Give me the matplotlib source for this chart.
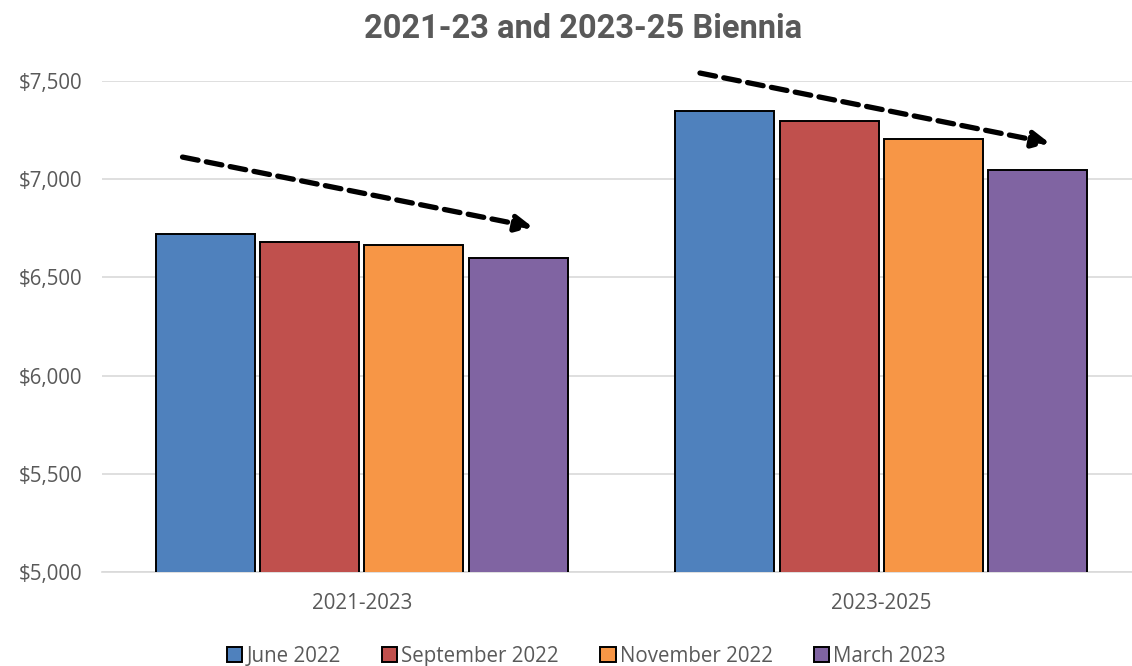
import numpy as np
from matplotlib import pyplot as plt
from matplotlib.ticker import FuncFormatter

categories = ["2021-2023", "2023-2025"]
series = ["June 2022", "September 2022", "November 2022", "March 2023"]
june_2022 = [6720, 7343]
sept_2022 = [6679, 7293]
nov_2022 = [6666, 7201]
march_2023 = [6598, 7045]
colors = ["#4F81BD", "#C0504D", "#F79646", "#8064A2"]

# trend arrows (start x offset, start y, end x offset, end y) per group
arrows = [(-0.345, 7111, 0.329, 6755), (-0.349, 7538, 0.324, 7182)]

plt.rcParams["font.family"] = ["Open Sans", "DejaVu Sans"]
text_gray = "#595959"

fig = plt.figure(figsize=(11.32, 6.66), dpi=100)
ax = fig.add_axes([0.0901, 0.1404, 0.9179, 0.7387])

x = np.arange(len(categories))
slot = 0.2008
width = 0.1905
values = [june_2022, sept_2022, nov_2022, march_2023]
for i, (vals, name, col) in enumerate(zip(values, series, colors)):
    ax.bar(x + (i - 1.5) * slot, vals, width=width, color=col,
           edgecolor="black", linewidth=1.4, label=name, zorder=3)

for gx, (x0, y0, x1, y1) in zip(x, arrows):
    ax.annotate("", xy=(gx + x1, y1), xytext=(gx + x0, y0),
                arrowprops=dict(arrowstyle="-|>,head_length=1.0,head_width=0.5",
                                linestyle=(0, (3, 1.6)), linewidth=3.8,
                                color="black", shrinkA=0, shrinkB=0),
                zorder=4)

ax.set_xlim(-0.5, 1.5)
ax.set_ylim(5000, 7500)
ax.set_yticks(np.arange(5000, 7501, 500))
ax.yaxis.set_major_formatter(FuncFormatter(lambda v, p: f"${v:,.0f}"))
ax.set_xticks(x)
ax.set_xticklabels(categories)
ax.tick_params(axis="both", length=0, labelsize=14.8, colors=text_gray)
ax.tick_params(axis="x", pad=15)
ax.tick_params(axis="y", pad=14)
ax.grid(axis="y", color="#D9D9D9", linewidth=1.2, zorder=0)
for s in ["top", "right", "left"]:
    ax.spines[s].set_visible(False)
ax.spines["bottom"].set_color("#D9D9D9")
ax.spines["bottom"].set_linewidth(1.2)

fig.text(0.515, 0.956, "2021-23 and 2023-25 Biennia", ha="center", va="center",
         fontsize=23.5, fontweight="bold", color=text_gray,
         family=["Roboto", "DejaVu Sans"])

leg = fig.legend(loc="lower center", bbox_to_anchor=(0.518, -0.029), ncol=4,
                 frameon=False, fontsize=14.8, handlelength=0.75,
                 handleheight=0.75, handletextpad=0.2, columnspacing=2.0)
for t in leg.get_texts():
    t.set_color(text_gray)

fig.savefig("out.png", dpi=100)
